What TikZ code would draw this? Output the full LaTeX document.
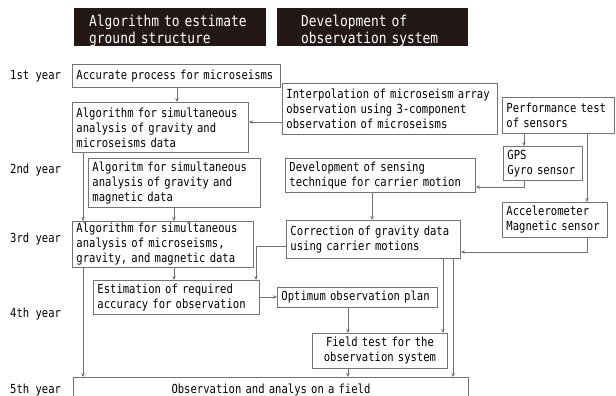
\documentclass[tikz,border=0pt]{standalone}
\usepackage{fontspec}
\newfontfamily\boxfont[FakeStretch=0.845]{DejaVu Sans Mono}
\newfontfamily\hdrfont[FakeStretch=0.86]{DejaVu Sans Mono}
\usetikzlibrary{arrows.meta}
\definecolor{hdr}{HTML}{231815}
\definecolor{ln}{gray}{0.45}
\begin{document}
\begin{tikzpicture}[x=1pt,y=-1pt,
 box/.style={draw=ln, line width=0.9pt, anchor=north west, inner xsep=4pt, inner ysep=0pt, align=left, font=\boxfont\fontsize{12.5}{15}\selectfont},
 hdrbox/.style={fill=hdr, draw=none, anchor=north west, inner ysep=0pt, align=left, text=white, font=\hdrfont\fontsize{15}{17}\selectfont},
 yr/.style={anchor=west, inner sep=0pt, font=\boxfont\fontsize{12.5}{15}\selectfont},
 arr/.style={draw=ln, line width=0.9pt, -{Stealth[length=4pt,width=3.5pt]}}]
\useasboundingbox (0,0) rectangle (616,396);
\clip (0,0) rectangle (616,396);

% headers
\node[hdrbox, minimum width=192pt, minimum height=38pt, inner xsep=15pt, text width=162pt] (h1) at (74,8) {\rule{0pt}{18pt}\mbox{Algorithm to estimate}\\\mbox{ground structure}};
\node[hdrbox, minimum width=191pt, minimum height=38pt, inner xsep=24pt, text width=143pt] (h2) at (277,8) {\rule{0pt}{18pt}\mbox{Development of}\\\mbox{observation system}};

% year labels
\node[yr] (y1) at (10,76) {1st year};
\node[yr] (y2) at (10,170) {2nd year};
\node[yr] (y3) at (10,239) {3rd year};
\node[yr] (y4) at (10,314) {4th year};
\node[yr] (y5) at (10,390) {5th year};

% boxes
\node[box, minimum width=208pt, minimum height=23pt, text width=200pt] (A) at (72,64) {Accurate process for microseisms};
\node[box, minimum width=176pt, minimum height=50pt, text width=168pt] (B) at (72,102) {Algorithm for simultaneous\\analysis of gravity and\\microseisms data};
\node[box, minimum width=215pt, minimum height=51pt, text width=207pt] (C) at (282,83) {\mbox{Interpolation of microseism array}\\observation using 3-component\\observation of microseisms};
\node[box, minimum width=112pt, minimum height=36pt, text width=104pt] (D) at (502,97) {Performance test\\of sensors};
\node[box, minimum width=79pt, minimum height=34pt, text width=71pt] (E) at (503,146) {GPS\\Gyro sensor};
\node[box, minimum width=105pt, minimum height=35pt, text width=97pt] (F) at (502,202) {Accelerometer\\Magnetic sensor};
\node[box, minimum width=190pt, minimum height=34pt, text width=182pt] (G) at (285,158) {Development of sensing\\technique for carrier motion};
\node[box, minimum width=174pt, minimum height=38pt, text width=166pt] (H) at (286,220) {Correction of gravity data\\using carrier motions};
\node[box, minimum width=172pt, minimum height=49pt, text width=164pt] (I) at (88,158) {Algoritm for simultaneous\\analysis of gravity and\\magnetic data};
\node[box, minimum width=181pt, minimum height=46pt, text width=173pt] (J) at (72,221) {Algorithm for simultaneous\\analysis of microseisms,\\gravity, and magnetic data};
\node[box, minimum width=166pt, minimum height=34pt, text width=158pt] (K) at (93,280) {Estimation of required\\accuracy for observation};
\node[box, minimum width=160pt, minimum height=20pt, text width=152pt] (M) at (277,287) {Optimum observation plan};
\node[box, minimum width=135pt, minimum height=35pt, text width=127pt, align=center] (N) at (312,333) {Field test for the\\observation system};
\node[box, minimum width=395pt, minimum height=26pt, text width=387pt, align=center] (L) at (73,377) {Observation and analys on a field};

% connectors
\draw[arr] (A.south -| 177,0) -- (B.north -| 177,0);
\draw[arr] (C.west |- 0,122) -- (B.east |- 0,122);
\draw[arr] (D.south -| 524,0) -- (E.north -| 524,0);
\draw[arr] (D.south -| 587,0) -- (F.north -| 587,0);
\draw[arr] (E.south -| 524,0) |- (G.east |- 0,187);
\draw[arr] (G.south -| 372,0) -- (H.north -| 372,0);
\draw[arr] (F.south -| 587,0) |- (H.east |- 0,252);
\draw[arr] (B.south -| 83,0) -- (J.north -| 83,0);
\draw[arr] (I.south -| 174,0) -- (J.north -| 174,0);
\draw[arr] (J.south -| 174,0) -- (K.north -| 174,0);
\draw[arr] (H.west |- 0,246) -| (K.north -| 256,0);
\draw[arr] (J.south -| 83,0) -- (L.north -| 83,0);
\draw[arr] (K.east |- 0,297) -- (M.west |- 0,297);
\draw[arr] (M.south -| 348,0) -- (N.north -| 348,0);
\draw[arr] (H.south -| 443,0) -- (N.north -| 443,0);
\draw[arr] (H.south -| 453,0) -- (L.north -| 453,0);
\draw[arr] (N.south -| 348,0) -- (L.north -| 348,0);
\end{tikzpicture}
\end{document}
